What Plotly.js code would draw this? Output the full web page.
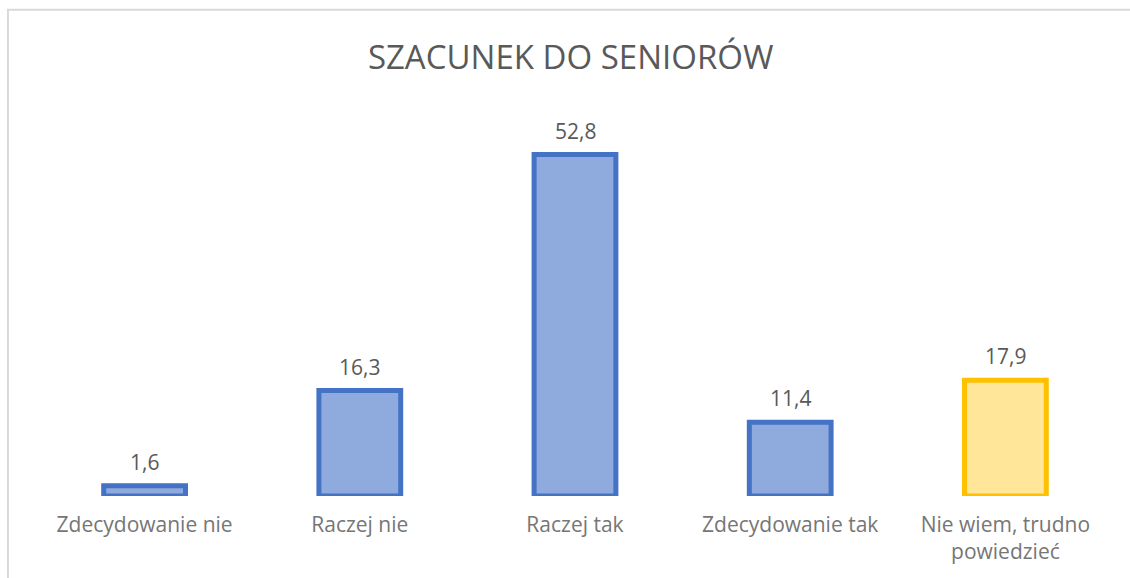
<!DOCTYPE html>
<html>
<head>
<meta charset="utf-8">
<script src="https://cdn.plot.ly/plotly-3.0.1.min.js"></script>
<style>html,body{margin:0;padding:0;background:#fff}#chart{width:1130px;height:578px}</style>
</head>
<body>
<div id="chart"></div>
<script>
const categories = ["Zdecydowanie nie", "Raczej nie", "Raczej tak", "Zdecydowanie tak", "Nie wiem, trudno<br>powiedzieć"];
const values = [1.6, 16.3, 52.8, 11.4, 17.9];
const valueLabels = ["1,6", "16,3", "52,8", "11,4", "17,9"];
const fillColors = ["#8FAADC", "#8FAADC", "#8FAADC", "#8FAADC", "#FFE699"];
const lineColors = ["#4472C4", "#4472C4", "#4472C4", "#4472C4", "#FFC000"];

const FONT = "'Open Sans', sans-serif";

const trace = {
  type: "bar",
  x: categories,
  y: values,
  width: 0.38,
  marker: { color: fillColors, line: { color: lineColors, width: 5 } },
  hoverinfo: "skip"
};

const annotations = categories.map((c, i) => ({
  x: c, y: values[i], xref: "x", yref: "y",
  text: valueLabels[i], showarrow: false,
  yanchor: "bottom", yshift: 8,
  font: { family: FONT, size: 21, color: "#595959" }
}));

const layout = {
  width: 1130, height: 578,
  margin: { l: 37, r: 17, t: 108, b: 82 },
  paper_bgcolor: "#ffffff", plot_bgcolor: "#ffffff",
  showlegend: false,
  title: {
    text: "SZACUNEK DO SENIORÓW",
    x: 0.505, xanchor: "center", y: 0.9, yanchor: "middle",
    font: { family: FONT, size: 33, color: "#595959" }
  },
  xaxis: {
    type: "category",
    showline: false, showgrid: false, zeroline: false, ticks: "",
    ticklabelstandoff: 14,
    tickfont: { family: FONT, size: 21, color: "#767676" }
  },
  yaxis: {
    range: [0, 60], visible: false, showgrid: false, zeroline: false
  },
  annotations: annotations,
  shapes: [{
    type: "rect", xref: "paper", yref: "paper", layer: "below",
    x0: -0.027, x1: 1.03, y0: -0.3, y1: 1.253,
    line: { color: "#D9D9D9", width: 2 }, fillcolor: "rgba(0,0,0,0)"
  }]
};

Plotly.newPlot("chart", [trace], layout, { displayModeBar: false, staticPlot: true });
</script>
</body>
</html>
